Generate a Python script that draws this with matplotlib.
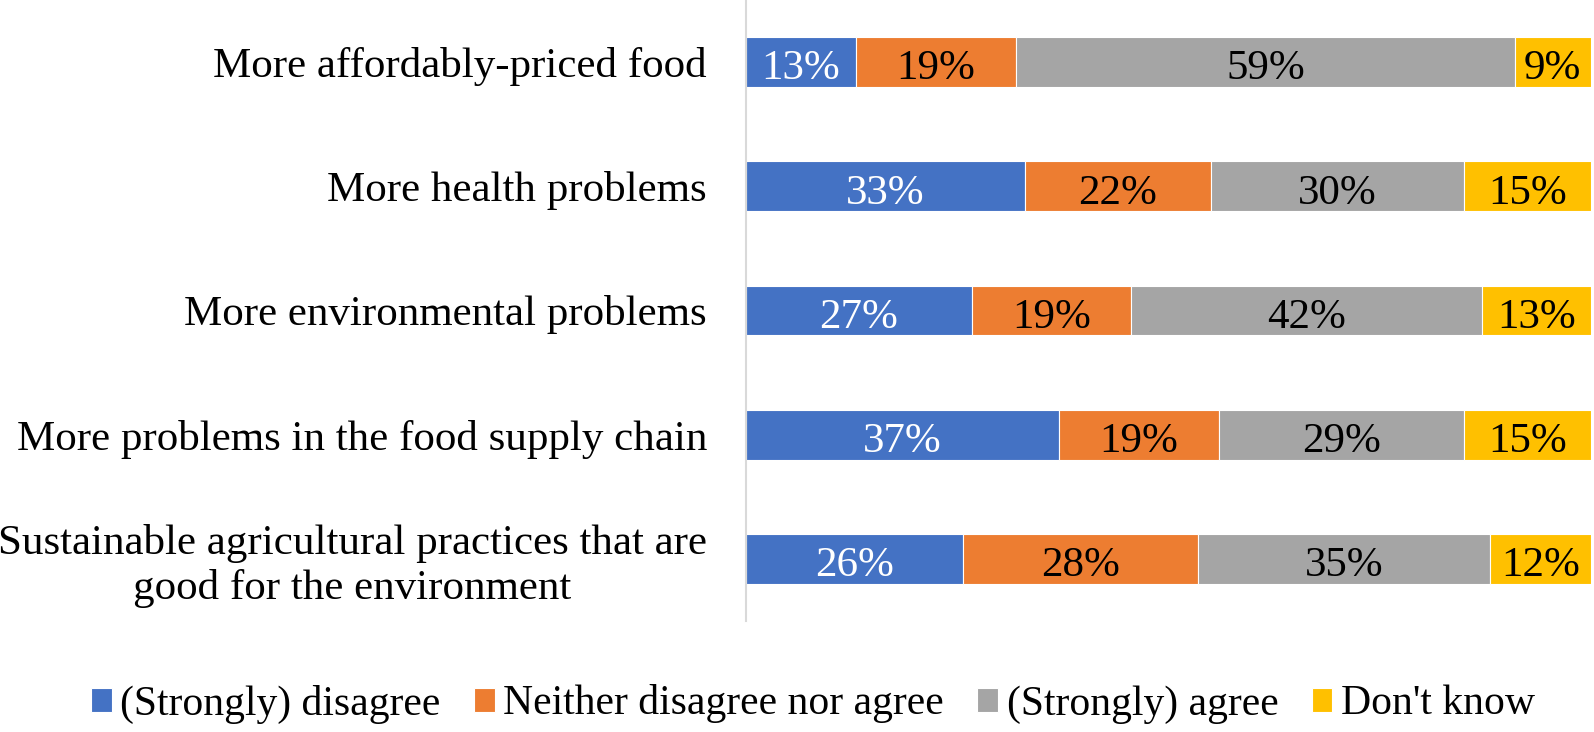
import matplotlib
matplotlib.use("Agg")
import matplotlib.pyplot as plt
import numpy as np

categories = [
    "More affordably-priced food",
    "More health problems",
    "More environmental problems",
    "More problems in the food supply chain",
    "Sustainable agricultural practices that are\ngood for the environment",
]
series_names = ["(Strongly) disagree", "Neither disagree nor agree", "(Strongly) agree", "Don't know"]
disagree = [13, 33, 27, 37, 26]
neither = [19, 22, 19, 19, 28]
agree = [59, 30, 42, 29, 35]
dont_know = [9, 15, 13, 15, 12]

colors = ["#4472C4", "#ED7D31", "#A5A5A5", "#FFC000"]
text_colors = ["white", "black", "black", "black"]

plt.rcParams['font.family'] = ['Liberation Serif', 'DejaVu Serif']

fig = plt.figure(figsize=(15.94, 7.32), dpi=100)
ax = fig.add_axes([746/1594, 1 - 621/732, 1 - 746/1594 - 0.002, 621/732])

data = np.array([disagree, neither, agree, dont_know], dtype=float)
totals = data.sum(axis=0)
shares = data / totals
y = np.arange(len(categories))
left = np.zeros(len(categories))
for i in range(4):
    bars = ax.barh(y, shares[i], left=left, height=0.4, color=colors[i],
                   edgecolor="white", linewidth=0.8, label=series_names[i])
    for j, b in enumerate(bars):
        ax.text(left[j] + shares[i][j] / 2, y[j] + 0.02, f"{int(data[i][j])}%",
                ha="center", va="center_baseline", color=text_colors[i], fontsize=31)
    left += shares[i]

ax.set_xlim(0, 1)
ax.set_ylim(len(categories) - 0.5, -0.5)
ax.set_yticks(y)
ax.set_yticklabels(categories, fontsize=31, multialignment="center")
ax.tick_params(axis="y", length=0, pad=28)
ax.set_xticks([])
for s in ["top", "right", "bottom"]:
    ax.spines[s].set_visible(False)
ax.spines["left"].set_color("#D9D9D9")
ax.spines["left"].set_linewidth(1.5)

fig.legend(loc="center", bbox_to_anchor=(813/1594, 1 - 704/732), ncol=4,
           frameon=False, fontsize=30, handlelength=0.5, handleheight=0.5,
           handletextpad=0.2, columnspacing=0.8)

fig.savefig("out.png", dpi=100)
